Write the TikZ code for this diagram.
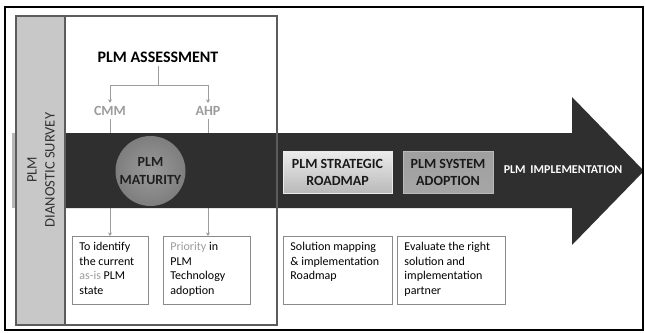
\documentclass[tikz,border=0pt]{standalone}
\usepackage{fontspec}
\setmainfont{Carlito}
\usetikzlibrary{arrows.meta}

\definecolor{bandgray}{HTML}{2F2F2F}
\definecolor{stripgray}{HTML}{C8C8C8}
\definecolor{softgray}{HTML}{9C9C9C}
\definecolor{frameline}{HTML}{5C5C5C}
\definecolor{boxline}{HTML}{8A8A8A}
\definecolor{discin}{HTML}{9A9A9A}
\definecolor{discout}{HTML}{7E7E7E}

\newcommand{\fs}[2]{\fontsize{#1}{#2}\selectfont}
% text block of a description box, top aligned
\newcommand{\descbody}[2]{\parbox[t][68pt][t]{#1}{\raggedright\leftskip=7pt\fs{12}{14.7}\rule{0pt}{14pt}#2}}

\tikzset{
  conn/.style={draw=softgray, line width=0.8pt, -{Stealth[length=3.5pt,width=4pt]}},
  plain/.style={draw=softgray, line width=0.8pt},
  descbox/.style={draw=boxline, line width=0.9pt, inner sep=0pt, anchor=north west},
  button/.style={minimum height=42pt, inner sep=0pt, align=center, font=\bfseries\fs{14}{17}, text=black!90, line width=1pt},
}

\begin{document}
\begin{tikzpicture}[x=1pt,y=-1pt]
\useasboundingbox (0,0) rectangle (645,332);
\fill[white] (0,0) rectangle (645,332);

% survey frame background
\fill[white] (16,16) rectangle (277,325);

% titles and assessment tree
\node[font=\bfseries\fs{16}{19}, text=black] (assess) at (158,57) {PLM ASSESSMENT};
\coordinate (split) at (158,85);
\node[font=\bfseries\fs{14}{17}, text=softgray] (cmm) at (110,111) {CMM};
\node[font=\bfseries\fs{14}{17}, text=softgray] (ahp) at (208,111) {AHP};
\draw[plain] (assess.south) -- (split);
\draw[conn] (split) -| (cmm.north);
\draw[conn] (split) -| (ahp.north);

% description boxes
\node[descbox] (ident) at (72,236) {\descbody{76pt}{To identify\\the current\\\textcolor{softgray}{as-is} PLM\\state}};
\node[descbox] (prio) at (163,236) {\descbody{87pt}{\textcolor{softgray}{Priority} in\\PLM\\Technology\\adoption}};
\node[descbox] (sol) at (283,236) {\descbody{109pt}{Solution mapping\\\& implementation\\Roadmap}};
\node[descbox] (eval) at (397,236) {\descbody{108pt}{Evaluate the right\\solution and\\implementation\\partner}};

% connectors running under the band
\draw[conn] (cmm.south) -- (cmm.south |- ident.north);
\draw[conn] (ahp.south) -- (ahp.south |- prio.north);

% main arrow band
\fill[gray!55] (12,133) rectangle (17,208);
\fill[bandgray] (16,133) -- (572,133) -- (572,97) -- (644,171) -- (572,245) -- (572,208) -- (16,208) -- cycle;

% maturity disc
\node[circle, minimum size=70pt, inner sep=0pt, shading=radial, inner color=discin, outer color=discout, align=center, font=\bfseries\fs{14}{18}, text=black!88] (mat) at (150.5,171) {PLM\\MATURITY};

% phase buttons
\node[button, minimum width=109pt, top color=gray!15, bottom color=gray!55, draw=white!92!black] (road) at (337.5,172) {PLM STRATEGIC\\ROADMAP};
\node[button, minimum width=90pt, top color=gray!75, bottom color=gray!100!black!70, draw=gray!55] (adopt) at (448,172) {PLM SYSTEM\\ADOPTION};
\node[font=\bfseries\fs{12}{14}, text=white] (impl) at (563,170) {PLM\hspace{0.4em}IMPLEMENTATION};

% survey frame and side strip
\draw[frameline, line width=1.2pt] (16,16) rectangle (277,325);
\fill[stripgray] (16,16) rectangle (65,325);
\draw[frameline, line width=1.2pt] (16,16) rectangle (65,325);
\node[rotate=90, align=center, font=\fs{14.5}{18}, text=black!80] (survey) at (41,170) {PLM\\DIANOSTIC SURVEY};

% outer border
\draw[black, line width=1.8pt] (5,7) rectangle (643,330);
\end{tikzpicture}
\end{document}
